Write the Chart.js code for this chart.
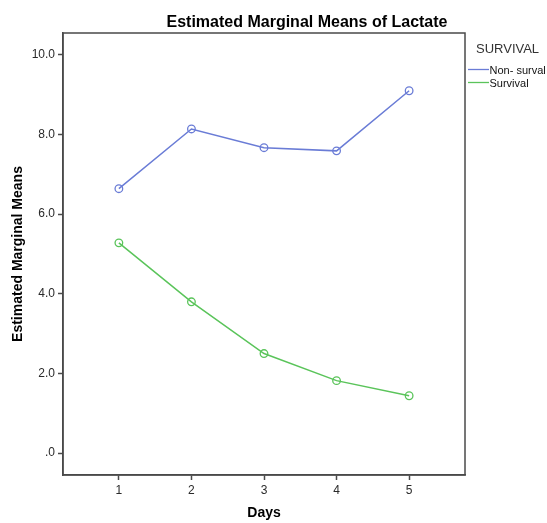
<!DOCTYPE html>
<html>
<head>
<meta charset="utf-8">
<script src="https://cdn.jsdelivr.net/npm/chart.js@4.4.1/dist/chart.umd.min.js"></script>
<style>
  html, body { margin: 0; padding: 0; background: #ffffff; }
  #wrap { width: 547px; height: 523px; }
</style>
</head>
<body>
<div id="wrap"><canvas id="c" width="547" height="523"></canvas></div>
<script>
const chartTitle = "Estimated Marginal Means of Lactate";
const xAxisTitle = "Days";
const yAxisTitle = "Estimated Marginal Means";
const legendTitle = "SURVIVAL";
const days = [1, 2, 3, 4, 5];
const seriesNames = ["Non- surval", "Survival"];
const nonSurvival = [6.64, 8.14, 7.67, 7.59, 9.10];
const survival = [5.28, 3.80, 2.50, 1.82, 1.44];
const yTickValues = [0, 2, 4, 6, 8, 10];
const xTickValues = [1, 2, 3, 4, 5];

const FONT = "'Liberation Sans', Arial, sans-serif";
const AXIS_COLOR = "#4a4a4a";
const colors = ["#6a7cd6", "#5ac45a"];

function toPoints(vals) { return days.map((d, i) => ({ x: d, y: vals[i] })); }

const frameAndText = {
  id: 'frameAndText',
  afterDraw(chart) {
    const ctx = chart.ctx;
    const a = chart.chartArea;
    ctx.save();
    ctx.strokeStyle = AXIS_COLOR;
    ctx.lineWidth = 1.5;
    ctx.strokeRect(a.left, a.top, a.right - a.left, a.bottom - a.top);
    ctx.fillStyle = "#000";
    ctx.font = "bold 16px " + FONT;
    ctx.textAlign = "center";
    ctx.textBaseline = "alphabetic";
    ctx.fillText(chartTitle, 307, 27);
    ctx.textAlign = "left";
    ctx.fillStyle = "#333";
    ctx.font = "13px " + FONT;
    ctx.fillText(legendTitle, 476, 53);
    ctx.font = "11px " + FONT;
    chart.data.datasets.forEach((ds, i) => {
      const y = 69.5 + i * 13;
      ctx.strokeStyle = ds.borderColor;
      ctx.lineWidth = 1.3;
      ctx.beginPath();
      ctx.moveTo(468, y);
      ctx.lineTo(489, y);
      ctx.stroke();
      ctx.fillStyle = "#111";
      ctx.fillText(ds.label, 489.5, y + 4);
    });
    ctx.restore();
  }
};

new Chart(document.getElementById('c'), {
  type: 'line',
  data: {
    datasets: [
      {
        label: seriesNames[0],
        data: toPoints(nonSurvival),
        borderColor: colors[0],
        backgroundColor: 'rgba(0,0,0,0)',
        borderWidth: 1.5,
        pointRadius: 3.8,
        pointBorderWidth: 1.3,
        pointBackgroundColor: 'rgba(0,0,0,0)',
        pointBorderColor: colors[0],
        tension: 0
      },
      {
        label: seriesNames[1],
        data: toPoints(survival),
        borderColor: colors[1],
        backgroundColor: 'rgba(0,0,0,0)',
        borderWidth: 1.5,
        pointRadius: 3.8,
        pointBorderWidth: 1.3,
        pointBackgroundColor: 'rgba(0,0,0,0)',
        pointBorderColor: colors[1],
        tension: 0
      }
    ]
  },
  options: {
    responsive: false,
    animation: false,
    devicePixelRatio: 1,
    layout: { padding: { top: 33, right: 82, left: 0, bottom: 0 } },
    plugins: {
      legend: { display: false },
      title: { display: false },
      tooltip: { enabled: false }
    },
    scales: {
      x: {
        type: 'linear',
        min: 0.23,
        max: 5.77,
        afterBuildTicks(scale) { scale.ticks = xTickValues.map(v => ({ value: v })); },
        afterFit(scale) { scale.height = 48; },
        grid: { drawOnChartArea: false, drawTicks: true, tickLength: 5, tickWidth: 1.5, tickColor: AXIS_COLOR },
        border: { display: true, color: AXIS_COLOR, width: 1.5 },
        ticks: {
          color: '#2a2a2a',
          font: { family: FONT, size: 12 },
          padding: 3,
          maxRotation: 0,
          callback: v => String(v)
        },
        title: {
          display: true,
          text: xAxisTitle,
          color: '#000',
          font: { family: FONT, size: 14, weight: 'bold' },
          padding: { top: 0, bottom: 1 }
        }
      },
      y: {
        type: 'linear',
        min: -0.55,
        max: 10.55,
        afterBuildTicks(scale) { scale.ticks = yTickValues.map(v => ({ value: v })); },
        afterFit(scale) { scale.width = 63; },
        grid: { drawOnChartArea: false, drawTicks: true, tickLength: 5, tickWidth: 1.5, tickColor: AXIS_COLOR },
        border: { display: true, color: AXIS_COLOR, width: 1.5 },
        ticks: {
          color: '#2a2a2a',
          font: { family: FONT, size: 12 },
          padding: 3,
          callback: v => (v === 0 ? '.0' : v.toFixed(1))
        },
        title: {
          display: true,
          text: yAxisTitle,
          color: '#000',
          font: { family: FONT, size: 14, weight: 'bold' },
          padding: { top: 10, bottom: 0 }
        }
      }
    }
  },
  plugins: [frameAndText]
});
</script>
</body>
</html>
